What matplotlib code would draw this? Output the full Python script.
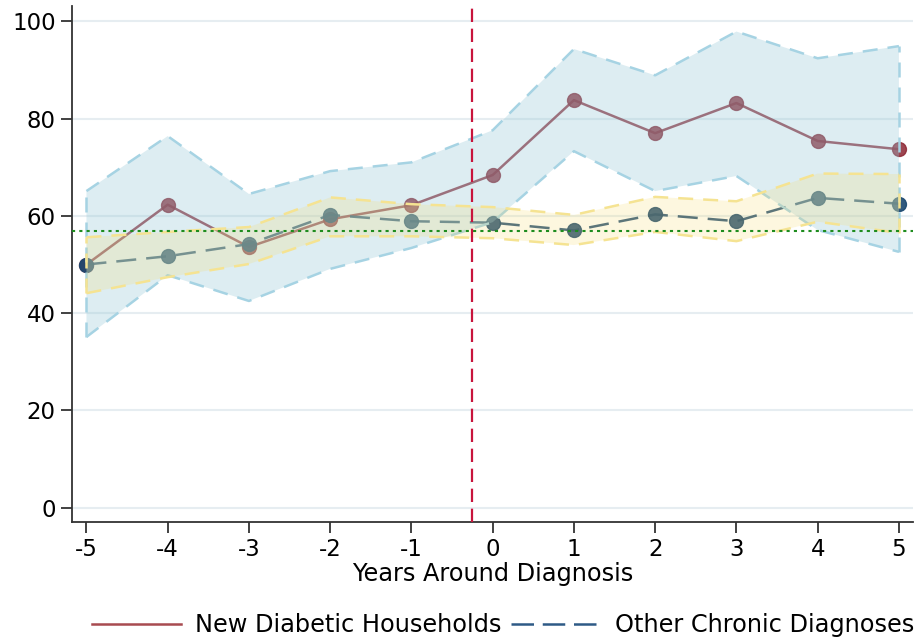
import matplotlib
matplotlib.use("Agg")
import matplotlib.pyplot as plt
from matplotlib.lines import Line2D

years = [-5, -4, -3, -2, -1, 0, 1, 2, 3, 4, 5]
diab = [50.0, 62.3, 53.6, 59.3, 62.2, 68.4, 83.8, 77.0, 83.2, 75.4, 73.7]
diab_hi = [65.1, 76.4, 64.5, 69.2, 71.0, 77.6, 94.3, 88.9, 97.9, 92.4, 94.9]
diab_lo = [35.1, 47.8, 42.5, 49.1, 53.4, 58.7, 73.3, 65.1, 68.2, 57.1, 52.6]
other = [50.0, 51.7, 54.2, 60.2, 58.9, 58.6, 57.0, 60.3, 58.9, 63.7, 62.5]
other_hi = [55.6, 56.7, 57.7, 63.8, 62.4, 61.8, 60.2, 63.9, 63.0, 68.7, 68.6]
other_lo = [44.1, 47.4, 50.1, 55.8, 55.8, 55.4, 54.0, 56.7, 54.8, 58.8, 56.5]
baseline = 56.9
event_x = -0.25
yticks = [0, 20, 40, 60, 80, 100]
labels = ["New Diabetic Households", "Other Chronic Diagnoses"]

diab_col = "#8c2633"
other_col = "#1a476f"

fig = plt.figure(figsize=(9.21, 6.41), dpi=100)
ax = fig.add_axes([0.078, 0.186, 0.913, 0.805])

ax.set_xlim(-5.18, 5.17)
ax.set_ylim(-2.9, 103.2)

for y in yticks:
    ax.axhline(y, color="#e6edf1", lw=1.5, zorder=0)

# lines (drawn under bands)
ax.plot(years, diab, color=diab_col, lw=1.8, marker="o", ms=10, alpha=0.85, zorder=1)
ax.plot(years, other, color=other_col, lw=1.8, marker="o", ms=10, alpha=0.9,
        dashes=(8, 4), zorder=1)

# bands over lines
band_b = "#a6d3e3"
ax.fill_between(years, diab_lo, diab_hi, facecolor="#98c9d8", alpha=0.33,
                edgecolor="none", zorder=2)
ax.plot(years, diab_hi, color=band_b, lw=1.8, dashes=(6, 4), zorder=2)
ax.plot(years, diab_lo, color=band_b, lw=1.8, dashes=(6, 4), zorder=2)
ax.plot([years[0], years[0]], [diab_lo[0], diab_hi[0]], color=band_b, lw=1.8, dashes=(6, 4), zorder=2)
ax.plot([years[-1], years[-1]], [diab_lo[-1], diab_hi[-1]], color=band_b, lw=1.8, dashes=(6, 4), zorder=2)

band_y = "#f5e392"
ax.fill_between(years, other_lo, other_hi, facecolor="#f7dc6f", alpha=0.22,
                edgecolor="none", zorder=3)
ax.plot(years, other_hi, color=band_y, lw=1.8, dashes=(6, 4), zorder=3)
ax.plot(years, other_lo, color=band_y, lw=1.8, dashes=(6, 4), zorder=3)
ax.plot([years[0], years[0]], [other_lo[0], other_hi[0]], color=band_y, lw=1.8, dashes=(6, 4), zorder=3)
ax.plot([years[-1], years[-1]], [other_lo[-1], other_hi[-1]], color=band_y, lw=1.8, dashes=(6, 4), zorder=3)

ax.axhline(baseline, color="#1e8c1e", lw=1.5, ls=(0, (1.5, 2)), zorder=4)
ax.axvline(event_x, color="#c8143c", lw=1.6, dashes=(6, 3), zorder=4)

ax.set_xticks(years)
ax.set_xticklabels([str(y) for y in years])
ax.set_yticks(yticks)
ax.tick_params(axis="both", labelsize=16.5, length=8, width=1.3, color="#333333")
ax.set_xlabel("Years Around Diagnosis", fontsize=17.3, labelpad=1)

for s in ["top", "right"]:
    ax.spines[s].set_visible(False)
for s in ["left", "bottom"]:
    ax.spines[s].set_linewidth(1.3)
    ax.spines[s].set_color("#333333")

handles = [Line2D([], [], color="#a84b50", lw=1.8),
           Line2D([], [], color="#2e5a86", lw=1.8, dashes=(9, 3.5))]
fig.legend(handles, labels, loc="center", bbox_to_anchor=(0.546, 0.025), ncol=2,
           frameon=False, fontsize=17.3, handlelength=3.7, columnspacing=0.4,
           handletextpad=0.6, borderpad=0.2)

fig.savefig("out.png", dpi=100)
